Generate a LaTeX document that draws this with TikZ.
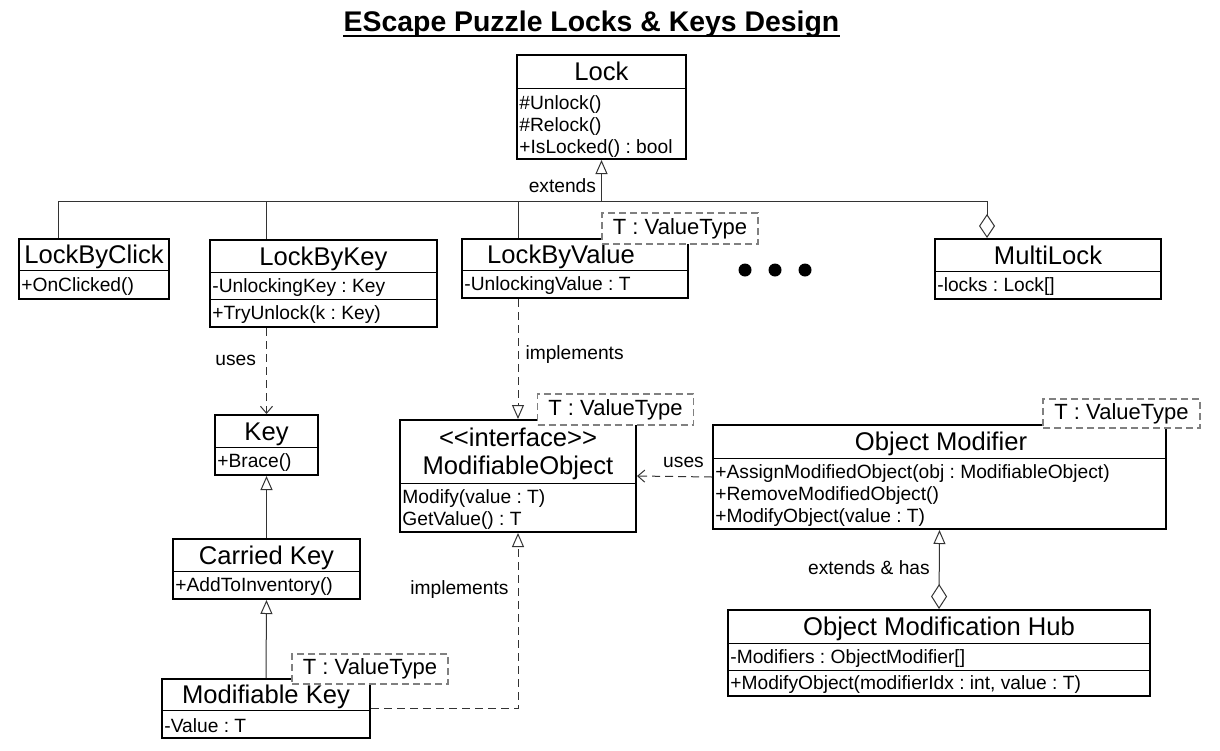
\documentclass[tikz,border=0pt]{standalone}
\usepackage{fontspec}
\setmainfont{Liberation Sans}
\usetikzlibrary{arrows.meta}

\begin{document}
\frenchspacing
\begin{tikzpicture}[x=0.5pt,y=-0.5pt,line join=miter,
  cls/.style={draw,line width=1pt,fill=white,inner sep=0pt},
  hdr/.style={font=\fontsize{12.8}{15}\selectfont,inner sep=0pt,text height=0.72em,text depth=0pt,yshift=-1pt},
  mbr/.style={font=\fontsize{9.6}{11}\selectfont,anchor=west,align=left,inner sep=0pt,yshift=-1pt},
  tmpl/.style={draw=black!50,dash pattern=on 3.5pt off 2pt,line width=0.6pt,fill=white,font=\fontsize{11}{13}\selectfont,inner sep=0pt},
  lbl/.style={font=\fontsize{9.6}{11}\selectfont,inner sep=0pt,text=black},
  div/.style={line width=0.5pt},
  conn/.style={black!80,line width=0.5pt},
  ext/.style={conn,-{Triangle[open,length=7pt,width=6pt]}},
  uses/.style={conn,dash pattern=on 4pt off 2.5pt,-{Straight Barb[length=3.5pt,width=6pt]}},
  impl/.style={conn,dash pattern=on 4pt off 2.5pt,-{Triangle[open,length=7pt,width=6pt]}},
  agg/.style={conn,{Diamond[open,length=12pt,width=8pt]}-},
  hubarr/.style={conn,{Diamond[open,length=12.5pt,width=8pt]}-{Triangle[open,length=7pt,width=6pt]}}]
\useasboundingbox (0,0) rectangle (1220,750);

% title
\node[font=\fontsize{14.2}{16}\selectfont\bfseries,anchor=base,inner sep=0pt] (title) at (591.5,31) {EScape Puzzle Locks \& Keys Design};
\draw[line width=1pt] ([yshift=-2.5pt]title.base west) -- ([yshift=-2.5pt]title.base east);

% Lock
\node[cls,minimum width=84.5pt,minimum height=52pt] (lock) at (601.5,107) {};
\node[hdr] at (601.5,71.5) {Lock};
\draw[div] (lock.west |- 0,88) -- (lock.east |- 0,88);
\node[mbr] at (519,124.5) {\#Unlock()\\\#Relock()\\+IsLocked() : bool};

% LockByClick
\node[cls,minimum width=75pt,minimum height=30pt] (lbc) at (94,269) {};
\node[hdr] at (94,254.5) {LockByClick};
\draw[div] (lbc.west |- 0,270) -- (lbc.east |- 0,270);
\node[mbr] at (21,285) {+OnClicked()};

% LockByKey
\node[cls,minimum width=113.5pt,minimum height=43.5pt] (lbk) at (323.5,283.5) {};
\node[hdr] at (323.5,256) {LockByKey};
\draw[div] (lbk.west |- 0,272) -- (lbk.east |- 0,272);
\draw[div] (lbk.west |- 0,299) -- (lbk.east |- 0,299);
\node[mbr] at (212,286) {-UnlockingKey : Key};
\node[mbr] at (212,313) {+TryUnlock(k : Key)};

% LockByValue
\node[cls,minimum width=113pt,minimum height=29.5pt] (lbv) at (575,268.5) {};
\node[hdr] at (561,254.5) {LockByValue};
\draw[div] (lbv.west |- 0,270) -- (lbv.east |- 0,270);
\node[mbr] at (464,284) {-UnlockingValue : T};
\node[tmpl,minimum width=78pt,minimum height=15.5pt] (lbvT) at (680,228.5) {T : ValueType};

% more locks
\fill (745,270) circle[radius=3.25pt];
\fill (775,270) circle[radius=3.25pt];
\fill (805,270) circle[radius=3.25pt];

% MultiLock
\node[cls,minimum width=113pt,minimum height=30pt] (ml) at (1048,269) {};
\node[hdr] at (1048,255) {MultiLock};
\draw[div] (ml.west |- 0,271) -- (ml.east |- 0,271);
\node[mbr] at (937,285) {-locks : Lock[]};

% Key
\node[cls,minimum width=51.5pt,minimum height=30pt] (key) at (266.5,445) {};
\node[hdr] at (266.5,431) {Key};
\draw[div] (key.west |- 0,447) -- (key.east |- 0,447);
\node[mbr] at (217,461) {+Brace()};

% Carried Key
\node[cls,minimum width=93.5pt,minimum height=30pt] (ck) at (266.5,569) {};
\node[hdr] at (266.5,555) {Carried Key};
\draw[div] (ck.west |- 0,571) -- (ck.east |- 0,571);
\node[mbr] at (175,585) {+AddToInventory()};

% Modifiable Key
\node[cls,minimum width=104pt,minimum height=29.5pt] (mk) at (266,708.5) {};
\node[hdr] at (266,694.5) {Modifiable Key};
\draw[div] (mk.west |- 0,710) -- (mk.east |- 0,710);
\node[mbr] at (164,724) {-Value : T};
\node[tmpl,minimum width=78pt,minimum height=15pt] (mkT) at (370,669) {T : ValueType};

% ModifiableObject
\node[cls,minimum width=118pt,minimum height=56pt] (iface) at (518,476) {};
\node[hdr] at (518,437) {<\kern0pt<interface>\kern0pt>};
\node[hdr] at (518,465) {ModifiableObject};
\draw[div] (iface.west |- 0,483) -- (iface.east |- 0,483);
\node[mbr] at (402,508) {Modify(value : T)\\GetValue() : T};
\node[tmpl,minimum width=78pt,minimum height=15.5pt] (ifaceT) at (615.5,409.5) {T : ValueType};

% Object Modifier
\node[cls,minimum width=226.5pt,minimum height=52pt] (om) at (939.5,477) {};
\node[hdr] at (941,441.5) {Object Modifier};
\draw[div] (om.west |- 0,458) -- (om.east |- 0,458);
\node[mbr] at (715,494) {+AssignModifiedObject(obj : ModifiableObject)\\+RemoveModifiedObject()\\+ModifyObject(value : T)};
\node[tmpl,minimum width=78.5pt,minimum height=14.5pt] (omT) at (1121.5,413.5) {T : ValueType};

% Object Modification Hub
\node[cls,minimum width=211pt,minimum height=43pt] (hub) at (939,653) {};
\node[hdr] at (939,626.5) {Object Modification Hub};
\draw[div] (hub.west |- 0,643) -- (hub.east |- 0,643);
\draw[div] (hub.west |- 0,670) -- (hub.east |- 0,670);
\node[mbr] at (730,656.5) {-Modifiers : ObjectModifier[]};
\node[mbr] at (730,683) {+ModifyObject(modifierIdx : int, value : T)};

% lock hierarchy
\coordinate (bus) at (lock.south |- 0,201);
\draw[ext] (bus) -- node[lbl,left=2.5pt,pos=0.38]{extends} (lock.south);
\draw[conn] ([xshift=-18pt]lbc.north) |- (bus);
\draw[conn] (key.north |- lbk.north) |- (bus);
\draw[conn] (iface.north |- lbv.north) |- (bus);
\draw[agg] ([xshift=-30.5pt]ml.north) |- (bus);

% keys
\draw[uses] (key.north |- lbk.south) -- node[lbl,left=5pt,pos=0.38]{uses} (key.north);
\draw[ext] (ck.north) -- (key.south);
\draw[ext] (mk.north) -- (ck.south);

% modifiable objects
\draw[impl] (iface.north |- lbv.south) -- node[lbl,right=3.5pt,pos=0.46]{implements} (iface.north);
\draw[impl] (mk.east) -| node[lbl,left=4.5pt,pos=0.84]{implements} (iface.south);
\draw[uses] (om.west) -- node[lbl,above=4pt,pos=0.38]{uses} (iface.east);
\draw[hubarr] (hub.north) -- node[lbl,left=4.5pt,pos=0.52]{extends \& has} (om.south);
\end{tikzpicture}
\end{document}
